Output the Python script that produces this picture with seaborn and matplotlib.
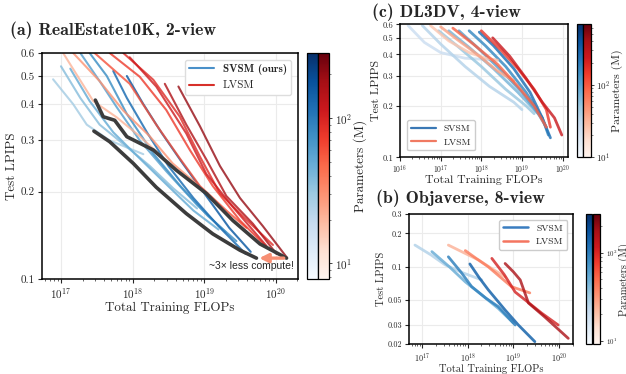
import numpy as np
import pandas as pd
import matplotlib
matplotlib.use("Agg")
import matplotlib.pyplot as plt
import seaborn as sns
from matplotlib.colors import LogNorm
from matplotlib.cm import ScalarMappable
from matplotlib.lines import Line2D
from matplotlib.ticker import LogLocator, NullFormatter

# ---------------- (a) RealEstate10K, 2-view ----------------
a_svsm_params = [27, 35, 47, 56, 73, 115, 148]
a_svsm_logflops = [
    [16.89, 17.17, 17.36, 17.68, 18.15],
    [17.00, 17.27, 17.54, 17.92, 18.24, 18.57, 18.90],
    [17.13, 17.40, 17.73, 18.10, 18.47, 18.85, 19.20],
    [17.27, 17.54, 17.78, 18.10, 18.47, 18.90, 19.30],
    [17.40, 17.64, 17.92, 18.29, 18.66, 19.05, 19.45],
    [17.73, 17.92, 18.20, 18.50, 18.85, 19.20, 19.58],
    [17.92, 18.15, 18.40, 18.70, 19.05, 19.35, 19.65],
]
a_svsm_lpips = [
    [0.487, 0.40, 0.34, 0.30, 0.269],
    [0.54, 0.42, 0.34, 0.285, 0.245, 0.205, 0.175],
    [0.53, 0.41, 0.32, 0.26, 0.212, 0.172, 0.148],
    [0.60, 0.48, 0.39, 0.30, 0.235, 0.18, 0.145],
    [0.60, 0.50, 0.37, 0.27, 0.21, 0.165, 0.135],
    [0.52, 0.42, 0.32, 0.245, 0.19, 0.152, 0.122],
    [0.50, 0.40, 0.32, 0.25, 0.19, 0.150, 0.124],
]
a_lvsm_params = [21, 30, 60, 75, 90, 110, 160, 200]
a_lvsm_logflops = [
    [17.03, 17.45, 17.78, 18.10, 18.33],
    [17.17, 17.54, 17.87, 18.24, 18.56, 18.90],
    [17.47, 17.96, 18.33, 18.66, 18.94, 19.31, 19.59],
    [17.68, 18.10, 18.47, 18.80, 19.12, 19.50, 19.87],
    [17.87, 18.29, 18.66, 18.94, 19.22, 19.59, 19.96],
    [17.96, 18.33, 18.75, 19.03, 19.40, 19.87],
    [18.45, 18.75, 19.03, 19.31, 19.68, 20.01],
    [18.64, 18.94, 19.22, 19.50, 19.82, 20.15],
]
a_lvsm_lpips = [
    [0.60, 0.41, 0.36, 0.31, 0.275],
    [0.60, 0.48, 0.38, 0.31, 0.25, 0.212],
    [0.60, 0.47, 0.34, 0.26, 0.209, 0.172, 0.150],
    [0.60, 0.497, 0.382, 0.278, 0.209, 0.159, 0.129],
    [0.60, 0.485, 0.362, 0.264, 0.197, 0.160, 0.131],
    [0.58, 0.46, 0.317, 0.230, 0.177, 0.130],
    [0.47, 0.34, 0.258, 0.193, 0.155, 0.122],
    [0.46, 0.336, 0.245, 0.19, 0.152, 0.119],
]
a_front_svsm_logflops = [17.46, 17.68, 18.01, 18.33, 18.75, 19.12, 19.50, 19.73]
a_front_svsm_lpips = [0.323, 0.297, 0.250, 0.207, 0.168, 0.143, 0.1256, 0.118]
a_front_lvsm_logflops = [17.48, 17.59, 17.75, 17.92, 18.29, 18.61, 19.03, 19.40, 19.78, 20.15]
a_front_lvsm_lpips = [0.413, 0.362, 0.352, 0.309, 0.278, 0.237, 0.197, 0.159, 0.132, 0.118]

# ---------------- (c) DL3DV, 4-view ----------------
c_svsm_params = [25, 35, 50, 70, 100, 150, 220]
c_svsm_logflops = [
    [16.20, 16.60, 17.00, 17.60, 18.40],
    [16.55, 17.00, 17.60, 18.20, 18.80, 19.00],
    [16.95, 17.40, 18.00, 18.60, 19.10, 19.30],
    [17.20, 17.70, 18.30, 18.90, 19.30, 19.50],
    [17.45, 17.90, 18.50, 19.00, 19.40, 19.60],
    [17.70, 18.10, 18.60, 19.10, 19.50, 19.65],
    [17.95, 18.30, 18.80, 19.20, 19.50, 19.70],
]
c_svsm_lpips = [
    [0.59, 0.47, 0.41, 0.38, 0.37],
    [0.59, 0.46, 0.34, 0.26, 0.21, 0.19],
    [0.55, 0.45, 0.34, 0.25, 0.20, 0.18],
    [0.55, 0.44, 0.33, 0.24, 0.19, 0.17],
    [0.55, 0.44, 0.32, 0.24, 0.18, 0.15],
    [0.55, 0.45, 0.34, 0.24, 0.17, 0.135],
    [0.54, 0.45, 0.33, 0.24, 0.17, 0.13],
]
c_lvsm_params = [25, 40, 90, 150, 250]
c_lvsm_logflops = [
    [16.75, 17.20, 17.70, 18.10, 18.40],
    [17.00, 17.40, 17.90, 18.40, 18.80],
    [17.30, 17.80, 18.40, 18.90, 19.30, 19.60],
    [18.00, 18.50, 18.90, 19.30, 19.60, 19.70],
    [18.28, 18.70, 19.10, 19.50, 19.80, 19.98],
]
c_lvsm_lpips = [
    [0.59, 0.48, 0.41, 0.38, 0.37],
    [0.58, 0.49, 0.40, 0.32, 0.28],
    [0.57, 0.46, 0.35, 0.26, 0.20, 0.15],
    [0.55, 0.42, 0.33, 0.25, 0.19, 0.15],
    [0.50, 0.39, 0.29, 0.21, 0.17, 0.135],
]

# ---------------- (b) Objaverse, 8-view ----------------
b_svsm_params = [26, 50, 94, 140]
b_svsm_logflops = [
    [16.85, 17.20, 17.51, 17.90, 18.31],
    [17.22, 17.60, 17.95, 18.30, 18.67, 19.00],
    [17.58, 17.85, 18.09, 18.40, 18.67, 19.04],
    [18.05, 18.25, 18.45, 18.82, 19.11, 19.47],
]
b_svsm_lpips = [
    [0.157, 0.128, 0.104, 0.088, 0.076],
    [0.137, 0.100, 0.073, 0.056, 0.042, 0.031],
    [0.123, 0.090, 0.066, 0.052, 0.0436, 0.0297],
    [0.106, 0.080, 0.062, 0.0406, 0.0297, 0.021],
]
b_lvsm_params = [24, 43, 107, 165]
b_lvsm_logflops = [
    [17.58, 17.90, 18.24, 18.55, 18.82],
    [17.95, 18.20, 18.45, 18.96, 19.36],
    [18.53, 18.80, 19.04, 19.26, 19.62, 19.98],
    [18.82, 19.00, 19.15, 19.33, 19.69, 20.20],
]
b_lvsm_lpips = [
    [0.157, 0.135, 0.115, 0.095, 0.081],
    [0.140, 0.118, 0.100, 0.066, 0.058],
    [0.119, 0.085, 0.059, 0.050, 0.038, 0.0297],
    [0.107, 0.090, 0.076, 0.047, 0.035, 0.0225],
]


def to_frame(params, logflops, lpips):
    rows = []
    for i, (p, xs, ys) in enumerate(zip(params, logflops, lpips)):
        for x, y in zip(xs, ys):
            rows.append({"run": i, "params": p, "flops": 10 ** x, "lpips": y})
    return pd.DataFrame(rows)


sns.set_style("whitegrid", {"axes.edgecolor": "black", "grid.color": "#ebebeb",
                            "xtick.bottom": True, "ytick.left": True})
plt.rcParams["font.family"] = "serif"
plt.rcParams["font.serif"] = ["cmr10", "DejaVu Serif"]
plt.rcParams["mathtext.fontset"] = "cm"
plt.rcParams["axes.formatter.use_mathtext"] = True
plt.rcParams["axes.unicode_minus"] = False

fig = plt.figure(figsize=(6.26, 3.74), dpi=100)
W, H = 626, 374


def rect(x0, y0, x1, y1):
    return [x0 / W, 1 - y1 / H, (x1 - x0) / W, (y1 - y0) / H]


def draw_panel(ax, svsm, lvsm, norm, lw):
    sns.lineplot(data=svsm, x="flops", y="lpips", hue="params", palette="Blues",
                 hue_norm=norm, units="run", estimator=None, sort=False,
                 lw=lw, alpha=0.85, legend=False, ax=ax)
    sns.lineplot(data=lvsm, x="flops", y="lpips", hue="params", palette="Reds",
                 hue_norm=norm, units="run", estimator=None, sort=False,
                 lw=lw, alpha=0.8, legend=False, ax=ax)


def style_axes(ax, xlim, ylim, yticks, ylabels, tick_fs, label_fs, xpad=1, ypad=2):
    ax.set_xscale("log")
    ax.set_yscale("log")
    ax.set_xlim(*xlim)
    ax.set_ylim(*ylim)
    ax.set_yticks(yticks)
    ax.set_yticklabels(ylabels)
    ax.yaxis.set_minor_locator(plt.NullLocator())
    ax.xaxis.set_major_locator(LogLocator(base=10, numticks=10))
    ax.xaxis.set_minor_locator(LogLocator(base=10, subs=np.arange(2, 10), numticks=20))
    ax.xaxis.set_minor_formatter(NullFormatter())
    ax.tick_params(labelsize=tick_fs, length=3, width=0.8, pad=2)
    ax.tick_params(which="minor", length=1.5, width=0.5)
    ax.set_xlabel("Total Training FLOPs", fontsize=label_fs, labelpad=xpad)
    ax.set_ylabel("Test LPIPS", fontsize=label_fs, labelpad=ypad)
    for s in ax.spines.values():
        s.set_linewidth(1.1)
        s.set_color("black")


def add_cbar(rb, rr, norm, tick_fs, label_fs, pad):
    cax_b = fig.add_axes(rb)
    cax_r = fig.add_axes(rr)
    cb = fig.colorbar(ScalarMappable(norm=norm, cmap="Blues"), cax=cax_b)
    cb.set_ticks([])
    cb.ax.minorticks_off()
    cr = fig.colorbar(ScalarMappable(norm=norm, cmap="Reds"), cax=cax_r)
    cr.set_ticks([10, 100])
    cr.ax.tick_params(labelsize=tick_fs, length=2.5, width=0.6, pad=1.5)
    cr.ax.tick_params(which="minor", length=1.5, width=0.4)
    cr.set_label("Parameters (M)", fontsize=label_fs, labelpad=pad)
    for c in (cb, cr):
        c.outline.set_linewidth(0.9)


# ---- panel (a)
norm_a = LogNorm(7.8, 280)
ax_a = fig.add_axes(rect(42, 53, 298, 279))
draw_panel(ax_a, to_frame(a_svsm_params, a_svsm_logflops, a_svsm_lpips),
           to_frame(a_lvsm_params, a_lvsm_logflops, a_lvsm_lpips), norm_a, 1.5)
fx_s = 10 ** np.array(a_front_svsm_logflops)
fx_l = 10 ** np.array(a_front_lvsm_logflops)
sns.lineplot(x=fx_s, y=a_front_svsm_lpips, color="#3c3c3c", lw=2.6, sort=False, ax=ax_a)
sns.lineplot(x=fx_l, y=a_front_lvsm_lpips, color="#3c3c3c", lw=2.6, sort=False, ax=ax_a)
ax_a.annotate("", xy=(fx_s[-1], a_front_svsm_lpips[-1]),
              xytext=(fx_l[-1], a_front_lvsm_lpips[-1]),
              arrowprops=dict(arrowstyle="-|>", color="#f78f74", lw=2.4, mutation_scale=13))
ax_a.text(0.985, 0.035, "~3\u00d7 less compute!", transform=ax_a.transAxes, ha="right",
          va="bottom", fontsize=7.5, family=["Liberation Sans", "DejaVu Sans"])
style_axes(ax_a, (10 ** 16.735, 10 ** 20.31), (0.1, 0.6), [0.1, 0.2, 0.3, 0.4, 0.5, 0.6],
           ["0.1", "0.2", "0.3", "0.4", "0.5", "0.6"], 8, 9.4)
leg = ax_a.legend(handles=[Line2D([], [], color="#4a90c9", lw=1.5),
                           Line2D([], [], color="#d7302a", lw=1.5)],
                  labels=["SVSM (ours)", "LVSM"], loc="upper right", fontsize=8,
                  frameon=True, framealpha=1, edgecolor="#dddddd", handlelength=2.2,
                  borderaxespad=0.6)
leg.get_texts()[0].set_fontfamily("cmb10")
add_cbar(rect(307, 53, 318, 279), rect(318, 53, 329, 279), norm_a, 8, 9.5, 1.5)
fig.text(10 / W, 1 - 30 / H, "(a) RealEstate10K, 2-view", fontsize=12.8, family="cmb10",
         va="center", ha="left")

# ---- panel (c)
norm_c = LogNorm(10, 680)
ax_c = fig.add_axes(rect(400, 24.3, 568.3, 157.3))
draw_panel(ax_c, to_frame(c_svsm_params, c_svsm_logflops, c_svsm_lpips),
           to_frame(c_lvsm_params, c_lvsm_logflops, c_lvsm_lpips), norm_c, 2.0)
style_axes(ax_c, (1e16, 10 ** 20.14), (0.1, 0.6), [0.1, 0.2, 0.3, 0.4, 0.5, 0.6],
           ["0.1", "0.2", "0.3", "0.4", "0.5", "0.6"], 6, 8.5, xpad=0, ypad=1)
ax_c.tick_params(axis="x", labelsize=5.5, pad=1)
ax_c.xaxis.set_label_coords(0.5, -0.135)
ax_c.legend(handles=[Line2D([], [], color="#3a78b5", lw=1.6),
                     Line2D([], [], color="#f07a62", lw=1.6)],
            labels=["SVSM", "LVSM"], loc="lower left", fontsize=7, frameon=True,
            framealpha=1, edgecolor="#cccccc", handlelength=2.6, borderaxespad=0.7)
add_cbar(rect(576.7, 24.3, 583.3, 157.3), rect(583.3, 24.3, 590.7, 157.3), norm_c, 6.5, 8.5, 1)
fig.text(372 / W, 1 - 12 / H, "(c) DL3DV, 4-view", fontsize=12.8, family="cmb10",
         va="center", ha="left")

# ---- panel (b)
norm_b = LogNorm(9.2, 277)
ax_b = fig.add_axes(rect(409, 214, 573.3, 344))
draw_panel(ax_b, to_frame(b_svsm_params, b_svsm_logflops, b_svsm_lpips),
           to_frame(b_lvsm_params, b_lvsm_logflops, b_lvsm_lpips), norm_b, 2.0)
style_axes(ax_b, (10 ** 16.72, 10 ** 20.31), (0.02, 0.3), [0.02, 0.03, 0.05, 0.1, 0.2, 0.3],
           ["0.02", "0.03", "0.05", "0.1", "0.2", "0.3"], 5.8, 7.6, xpad=0, ypad=1)
ax_b.legend(handles=[Line2D([], [], color="#3a7dc0", lw=1.8),
                     Line2D([], [], color="#f47560", lw=1.8)],
            labels=["SVSM", "LVSM"], loc="upper right", fontsize=7, frameon=True,
            framealpha=1, edgecolor="#cccccc", handlelength=2.6, borderaxespad=0.6)
add_cbar(rect(586, 214, 592.3, 344), rect(593.3, 214, 600, 344), norm_b, 5, 7.5, 1)
fig.text(376 / W, 1 - 198 / H, "(b) Objaverse, 8-view", fontsize=12.8, family="cmb10",
         va="center", ha="left")

fig.savefig("out.png", dpi=100)
